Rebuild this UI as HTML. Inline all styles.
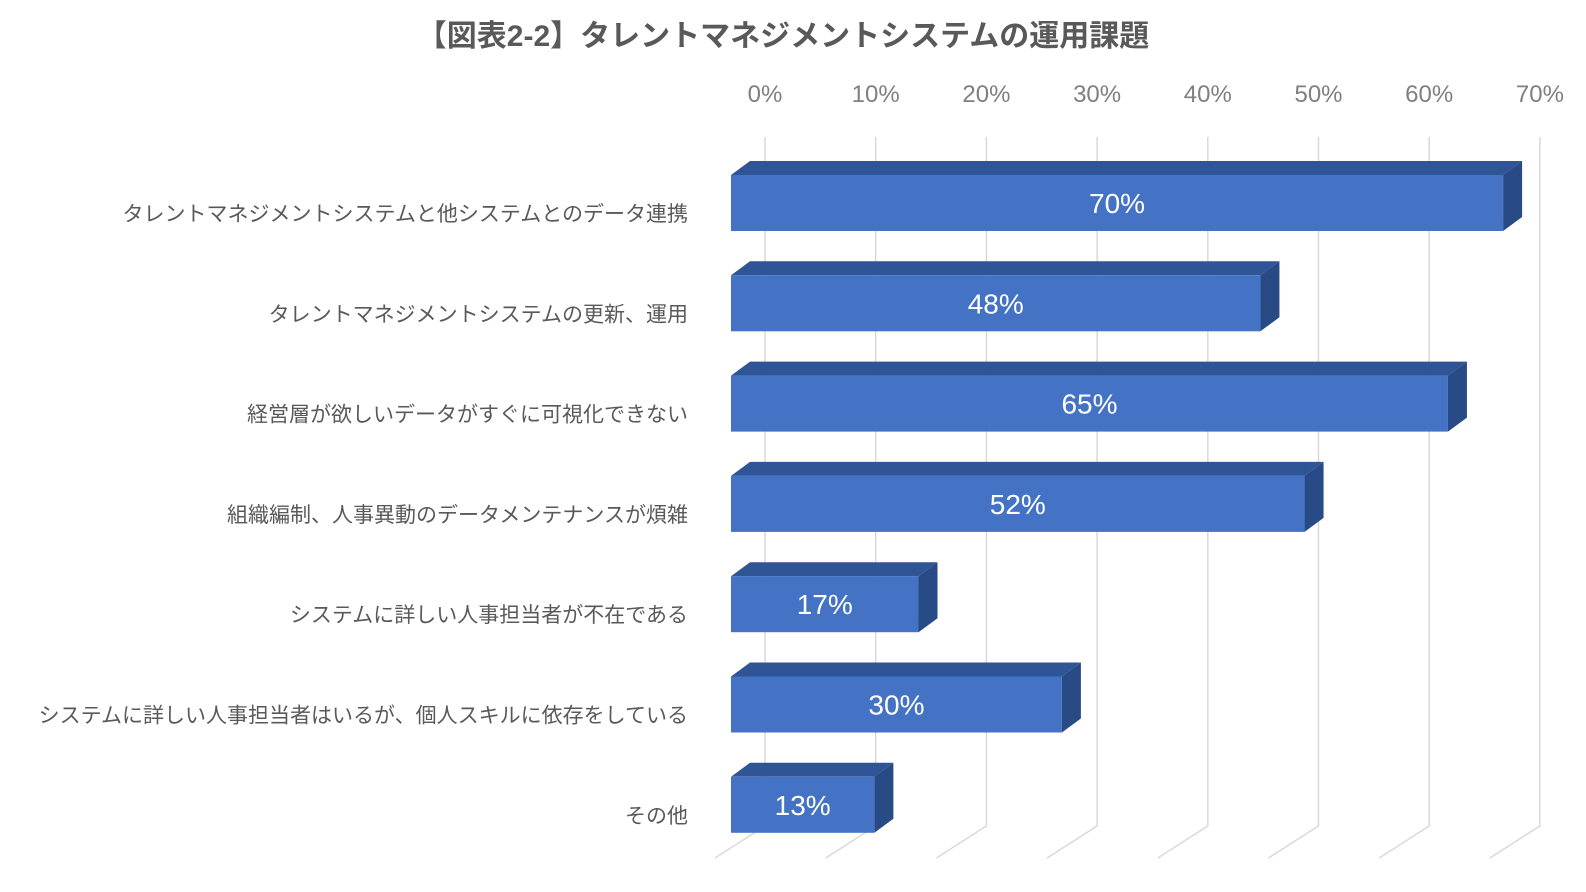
<!DOCTYPE html>
<html><head><meta charset="utf-8"><style>
html,body{margin:0;padding:0;background:#fff;}
svg{display:block;font-family:"Liberation Sans","Noto Sans CJK JP",sans-serif;}
</style></head><body>
<svg id="chart" width="1586" height="892" viewBox="0 0 1586 892" xmlns="http://www.w3.org/2000/svg">
<text x="783" y="46" text-anchor="middle" font-size="30" font-weight="bold" fill="#595959">【図表2-2】タレントマネジメントシステムの運用課題</text>
<g id="grid"></g><g id="ticks"></g><g id="cats"></g><g id="bars"></g>
</svg>
<script>
const categories=["タレントマネジメントシステムと他システムとのデータ連携","タレントマネジメントシステムの更新、運用","経営層が欲しいデータがすぐに可視化できない","組織編制、人事異動のデータメンテナンスが煩雑","システムに詳しい人事担当者が不在である","システムに詳しい人事担当者はいるが、個人スキルに依存をしている","その他"];
const values=[70,48,65,52,17,30,13];
const ticks=[0,10,20,30,40,50,60,70];
const tickLabels=["0%","10%","20%","30%","40%","50%","60%","70%"];
const NS="http://www.w3.org/2000/svg";
const fx=v=>731+v*11.03;          // front plane of bars
const bx=v=>765+v*11.07;          // back wall
const rowTop=i=>175+i*100.3;
const H=56,DX=19,DY=14;
function mk(t,a,p){const e=document.createElementNS(NS,t);for(const k in a)e.setAttribute(k,a[k]);p.appendChild(e);return e;}
const grid=document.getElementById('grid'),tk=document.getElementById('ticks'),cg=document.getElementById('cats'),bg=document.getElementById('bars');
ticks.forEach((t,i)=>{
  const x=bx(t);
  const l=mk('polyline',{points:`${x},137 ${x},826 ${x-50},858`,fill:'none',stroke:'#d9d9d9','stroke-width':1.5},grid);
  
  
  const tx=mk('text',{x:x,y:102,'text-anchor':'middle','font-size':24,fill:'#7f7f7f'},tk);
  tx.textContent=tickLabels[i];
  
  
});
categories.forEach((c,i)=>{
  const y=rowTop(i);
  const tx=mk('text',{x:688,y:y+46,'text-anchor':'end','font-size':21,fill:'#595959'},cg);
  tx.textContent=c;
  
  
  const x0=fx(0),x1=fx(values[i]);
  const g=mk('g',{},bg);
  
  
  mk('polygon',{points:`${x0},${y} ${x0+DX},${y-DY} ${x1+DX},${y-DY} ${x1},${y}`,fill:'#2f5597'},g);
  mk('polygon',{points:`${x1},${y} ${x1+DX},${y-DY} ${x1+DX},${y+H-DY} ${x1},${y+H}`,fill:'#284a85'},g);
  mk('rect',{x:x0,y:y,width:x1-x0,height:H,fill:'#4472c4'},g);
  const v=mk('text',{x:(x0+x1)/2,y:y+H/2+10,'text-anchor':'middle','font-size':28,fill:'#ffffff'},g);
  v.textContent=values[i]+'%';
  
  
});
</script>
</body></html>
